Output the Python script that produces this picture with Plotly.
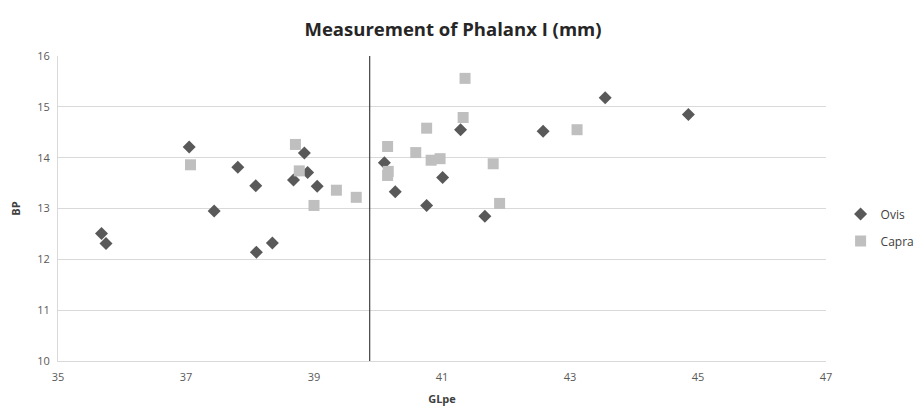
import plotly.graph_objects as go

ovis_x = [35.68, 35.75, 37.05, 37.44, 37.81, 38.09, 38.10, 38.35, 38.68, 38.85, 38.90, 39.05,
          40.10, 40.27, 40.76, 41.01, 41.29, 41.67, 42.58, 43.55, 44.85]
ovis_y = [12.51, 12.31, 14.21, 12.95, 13.81, 13.45, 12.14, 12.32, 13.56, 14.09, 13.71, 13.44,
          13.90, 13.33, 13.06, 13.61, 14.55, 12.85, 14.52, 15.18, 14.85]
capra_x = [37.07, 38.71, 38.77, 39.00, 39.35, 39.66,
           40.15, 40.16, 40.15, 40.59, 40.76, 40.83, 40.97, 41.33, 41.36, 41.80, 41.90, 43.11]
capra_y = [13.86, 14.26, 13.74, 13.06, 13.36, 13.22,
           14.22, 13.73, 13.65, 14.10, 14.58, 13.95, 13.98, 14.79, 15.56, 13.88, 13.10, 14.55]
divider_x = 39.87
x_ticks = [35, 37, 39, 41, 43, 45, 47]
y_ticks = [10, 11, 12, 13, 14, 15, 16]

fig = go.Figure()
fig.add_trace(go.Scatter(x=ovis_x, y=ovis_y, mode="markers", name="Ovis", legendgroup="o",
                         marker=dict(symbol="diamond", size=10, color="#595959")))
fig.add_trace(go.Scatter(x=capra_x, y=capra_y, mode="markers", name="Capra", legendgroup="c",
                         marker=dict(symbol="square", size=11, color="#BFBFBF")))
fig.add_shape(type="line", x0=divider_x, x1=divider_x, y0=0, y1=1, yref="paper",
              line=dict(color="#404040", width=1.2))

fig.update_layout(
    width=924, height=407,
    margin=dict(l=50, r=100, t=48, b=54),
    paper_bgcolor="white", plot_bgcolor="white",
    font=dict(family="Open Sans, Liberation Sans, sans-serif", size=11, color="#595959"),
    title=dict(text="<b>Measurement of Phalanx I (mm)</b>", x=0.4816, xref="container",
               xanchor="center", y=0.946, yanchor="middle",
               font=dict(size=18.5, color="#262626")),
    showlegend=True,
    legend=dict(x=1.019, y=0.4377, xanchor="left", yanchor="middle",
                font=dict(size=12, color="#404040"), tracegroupgap=8, itemwidth=30),
    xaxis=dict(range=[35, 47], tickvals=x_ticks, showgrid=False, zeroline=False,
               showline=True, linecolor="#D9D9D9", linewidth=1, ticks="",
               ticklabelstandoff=6, automargin=False,
               title=dict(text="<b>GLpe</b>", font=dict(size=11, color="#404040"), standoff=12),
               tickfont=dict(size=11, color="#595959")),
    yaxis=dict(range=[10, 16], tickvals=y_ticks, showgrid=True, gridcolor="#D9D9D9",
               zeroline=False, showline=True, linecolor="#D9D9D9", linewidth=1, ticks="",
               ticklabelstandoff=5, automargin=False,
               title=dict(text="<b>BP</b>", font=dict(size=11, color="#404040"), standoff=14),
               tickfont=dict(size=11, color="#595959")),
)

fig.write_html("out.html")
